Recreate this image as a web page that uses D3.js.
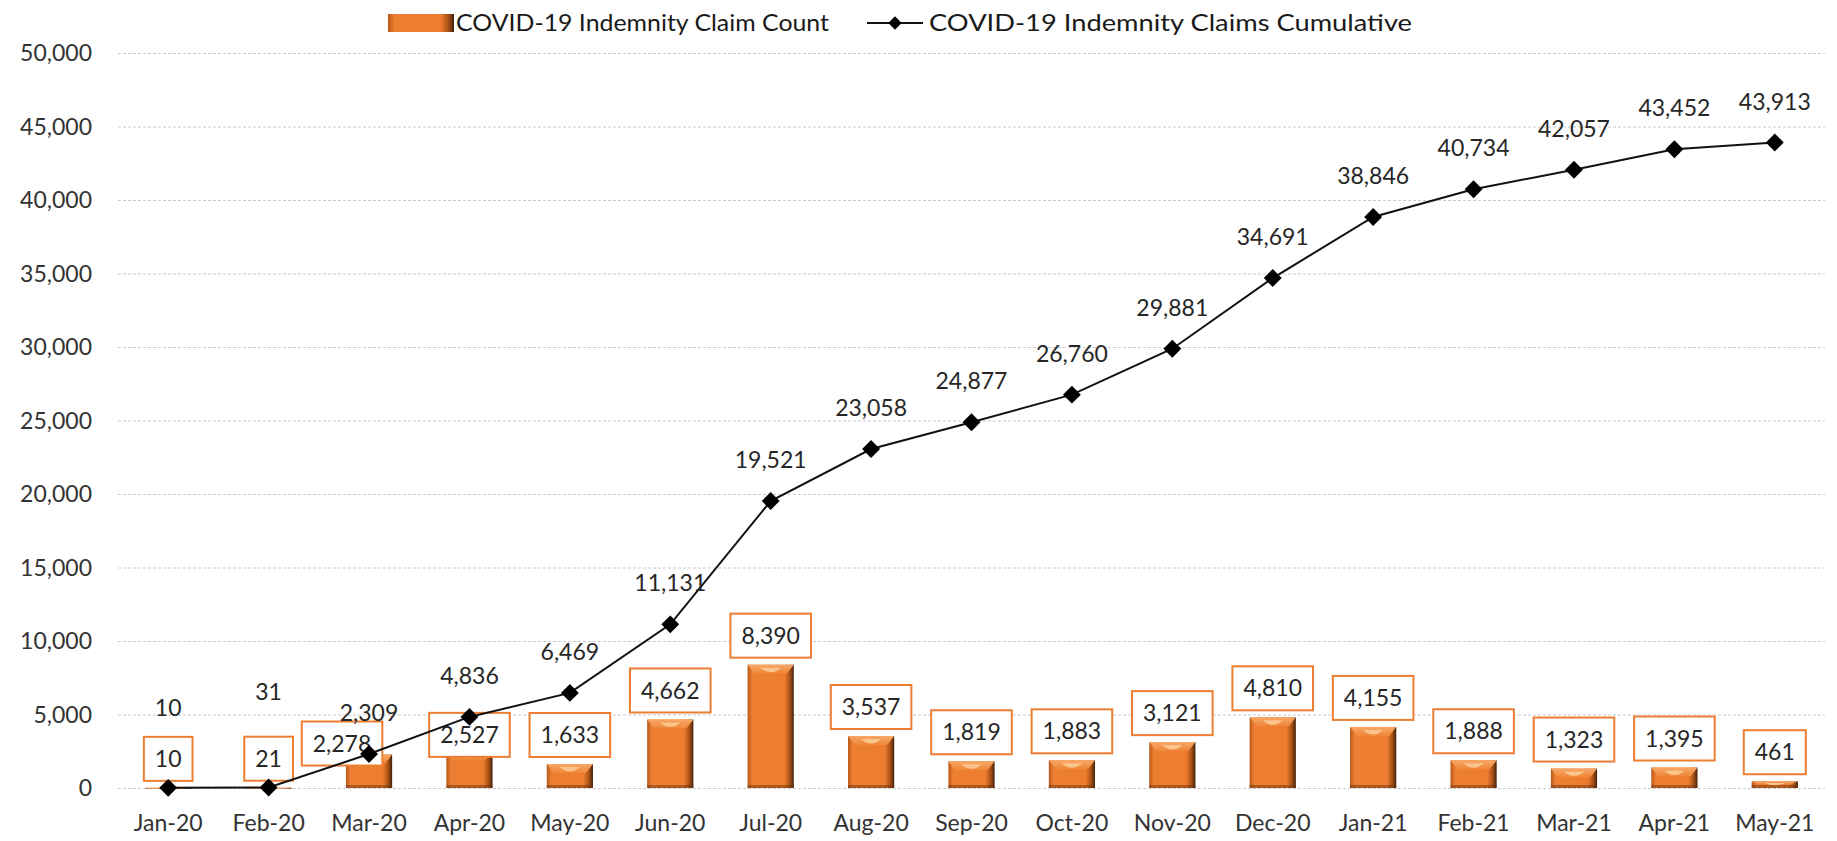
<!DOCTYPE html>
<html>
<head>
<meta charset="utf-8">
<script src="https://cdn.jsdelivr.net/npm/d3@7"></script>
<style>
  html, body { margin: 0; padding: 0; background: #fff; }
  svg { display: block; font-family: "Lato", "Open Sans", sans-serif; }
</style>
</head>
<body>
<script>
// data
var months = ["Jan-20", "Feb-20", "Mar-20", "Apr-20", "May-20", "Jun-20", "Jul-20", "Aug-20", "Sep-20",
  "Oct-20", "Nov-20", "Dec-20", "Jan-21", "Feb-21", "Mar-21", "Apr-21", "May-21"];
var claimCount = [10, 21, 2278, 2527, 1633, 4662, 8390, 3537, 1819, 1883, 3121, 4810, 4155, 1888, 1323, 1395, 461];
var claimCumulative = [10, 31, 2309, 4836, 6469, 11131, 19521, 23058, 24877, 26760, 29881, 34691, 38846, 40734, 42057, 43452, 43913];
var yTicks = [0, 5000, 10000, 15000, 20000, 25000, 30000, 35000, 40000, 45000, 50000];
var seriesNames = ["COVID-19 Indemnity Claim Count", "COVID-19 Indemnity Claims Cumulative"];

var width = 1837, height = 841;
var plotLeft = 118, plotRight = 1825, plotTop = 53, plotBottom = 788;
var fmt = d3.format(",");

var svg = d3.select("body").append("svg")
  .attr("width", width)
  .attr("height", height);

var defs = svg.append("defs");

/* bar bevel gradients */
var gH = defs.append("linearGradient").attr("id", "barH").attr("x1", 0).attr("x2", 1).attr("y1", 0).attr("y2", 0);
[[0, "#b8591a"], [0.1, "#ee7f32"], [0.8, "#ed7c2f"], [0.92, "#a34e14"], [1, "#40200a"]].forEach(function (s) {
  gH.append("stop").attr("offset", s[0]).attr("stop-color", s[1]);
});
var gTop = defs.append("linearGradient").attr("id", "barTop").attr("x1", 0).attr("x2", 0).attr("y1", 0).attr("y2", 1);
[[0, "#f7a867"], [1, "#ef8538"]].forEach(function (s) {
  gTop.append("stop").attr("offset", s[0]).attr("stop-color", s[1]);
});

var x = d3.scaleBand().domain(months).range([plotLeft, plotRight]).padding(0);
var y = d3.scaleLinear().domain([0, 50000]).range([plotBottom, plotTop]);
var barW = x.bandwidth() * 0.46;

/* 网格线 */
svg.append("g")
  .selectAll("line")
  .data(yTicks)
  .enter().append("line")
  .attr("x1", plotLeft)
  .attr("x2", plotRight)
  .attr("y1", d => y(d) + 0.5)
  .attr("y2", d => y(d) + 0.5)
  .attr("stroke", "#c9c9d0")
  .attr("stroke-width", 1)
  .attr("stroke-dasharray", "3,2");

/* y axis labels */
svg.append("g")
  .selectAll("text")
  .data(yTicks)
  .enter().append("text")
  .attr("x", 92)
  .attr("y", d => y(d))
  .attr("dy", "0.35em")
  .attr("text-anchor", "end")
  .attr("font-size", 23)
  .attr("fill", "#333")
  .text(d => fmt(d));

/* x axis labels */
svg.append("g")
  .selectAll("text")
  .data(months)
  .enter().append("text")
  .attr("x", d => x(d) + x.bandwidth() / 2)
  .attr("y", 823)
  .attr("dy", "0.35em")
  .attr("text-anchor", "middle")
  .attr("font-size", 23)
  .attr("fill", "#333")
  .text(d => d);

/* 柱子 */
var bars = svg.append("g")
  .selectAll("g")
  .data(months.map((m, i) => ({ m: m, v: claimCount[i] })))
  .enter().append("g")
  .attr("transform", d => "translate(" + (x(d.m) + (x.bandwidth() - barW) / 2) + "," + y(d.v) + ")");

bars.each(function (d) {
  var h = plotBottom - y(d.v);
  var g = d3.select(this);
  g.append("rect")
    .attr("width", barW)
    .attr("height", Math.max(h, 1))
    .attr("fill", "url(#barH)");
  var b = Math.min(9, h / 2);
  g.append("path")
    .attr("d", "M0,0 L" + barW + ",0 L" + (barW - 7) + "," + b + " L7," + b + " Z")
    .attr("fill", "url(#barTop)");
  if (h > 6) {
    g.append("path")
      .attr("d", "M" + (barW * 0.28) + "," + Math.min(3, b / 2) + " Q" + (barW / 2) + "," + (b + 3) + " " + (barW * 0.72) + "," + Math.min(3, b / 2) + " Z")
      .attr("fill", "#fbc48c");
    g.append("rect")
      .attr("y", h - 3)
      .attr("width", barW)
      .attr("height", 3)
      .attr("fill", "#6b3310")
      .attr("opacity", 0.5);
  }
});

/* bar label boxes (a few were moved by hand in the source) */
var boxShift = { "Mar-20": [-27, 18], "Apr-20": [0, 13] };
var boxH = 44, boxPad = 11;
var boxes = svg.append("g")
  .selectAll("g")
  .data(months.map((m, i) => ({ m: m, v: claimCount[i] })))
  .enter().append("g");

boxes.each(function (d) {
  var s = boxShift[d.m] || [0, 0];
  var cx = x(d.m) + x.bandwidth() / 2 + s[0];
  var yb = y(d.v) - 7 + s[1];
  var g = d3.select(this);
  var r = g.append("rect");
  var t = g.append("text")
    .attr("x", cx)
    .attr("y", yb - boxH / 2)
    .attr("dy", "0.35em")
    .attr("text-anchor", "middle")
    .attr("font-size", 23)
    .attr("fill", "#262626")
    .text(fmt(d.v));
  var w = t.node().getComputedTextLength() + boxPad * 2;
  r.attr("x", cx - w / 2)
    .attr("y", yb - boxH)
    .attr("width", w)
    .attr("height", boxH)
    .attr("fill", "#fff")
    .attr("stroke", "#ed7d31")
    .attr("stroke-width", 2);
});

/* 累计折线 */
var pts = months.map((m, i) => ({ m: m, v: claimCumulative[i] }));
var line = d3.line()
  .x(d => x(d.m) + x.bandwidth() / 2)
  .y(d => y(d.v));

svg.append("path")
  .datum(pts)
  .attr("d", line)
  .attr("fill", "none")
  .attr("stroke", "#111")
  .attr("stroke-width", 2);

var diamond = d3.symbol().type(d3.symbolSquare).size(160);
svg.append("g")
  .selectAll("path")
  .data(pts)
  .enter().append("path")
  .attr("d", diamond)
  .attr("transform", d => "translate(" + (x(d.m) + x.bandwidth() / 2) + "," + y(d.v) + ") rotate(45)")
  .attr("fill", "#000");

var lineLabelDy = { "Jan-20": -80, "Feb-20": -96 };
svg.append("g")
  .selectAll("text")
  .data(pts)
  .enter().append("text")
  .attr("x", d => x(d.m) + x.bandwidth() / 2)
  .attr("y", d => y(d.v) + (lineLabelDy[d.m] || -41))
  .attr("dy", "0.35em")
  .attr("text-anchor", "middle")
  .attr("font-size", 23)
  .attr("fill", "#262626")
  .text(d => fmt(d.v));

/* 图例 */
var legend = svg.append("g").attr("class", "legend");
legend.append("rect")
  .attr("x", 388)
  .attr("y", 14)
  .attr("width", 66)
  .attr("height", 18)
  .attr("fill", "url(#barH)");
legend.append("text")
  .attr("x", 456)
  .attr("y", 23)
  .attr("dy", "0.35em")
  .attr("font-size", 23)
  .attr("fill", "#1a1a1a")
  .attr("textLength", 373)
  .attr("lengthAdjust", "spacingAndGlyphs")
  .text(seriesNames[0]);
legend.append("line")
  .attr("x1", 867)
  .attr("x2", 923)
  .attr("y1", 23)
  .attr("y2", 23)
  .attr("stroke", "#111")
  .attr("stroke-width", 2);
legend.append("path")
  .attr("d", d3.symbol().type(d3.symbolSquare).size(90))
  .attr("transform", "translate(895,23) rotate(45)")
  .attr("fill", "#000");
legend.append("text")
  .attr("x", 929)
  .attr("y", 23)
  .attr("dy", "0.35em")
  .attr("font-size", 23)
  .attr("fill", "#1a1a1a")
  .attr("textLength", 483)
  .attr("lengthAdjust", "spacingAndGlyphs")
  .text(seriesNames[1]);
</script>
</body>
</html>
